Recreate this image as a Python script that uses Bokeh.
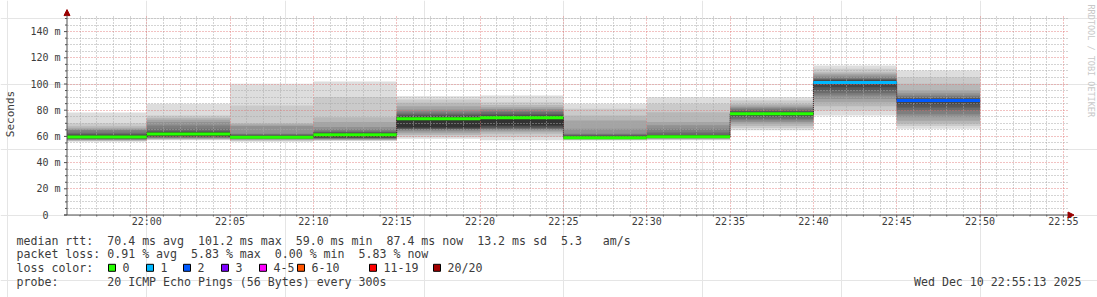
import math
from datetime import datetime
from bokeh.plotting import figure
from bokeh.models import Range1d, FixedTicker, Grid, Arrow, NormalHead
from bokeh.core.properties import value
from bokeh.embed import file_html
from bokeh.resources import INLINE

# ---------------- data ----------------
graph_start = "21:55:13"
graph_end = "22:55:13"
step_seconds = 300
step_end = ["22:00", "22:05", "22:10", "22:15", "22:20", "22:25",
            "22:30", "22:35", "22:40", "22:45", "22:50"]
median_ms = [59.5, 61.8, 59.4, 61.2, 73.5, 74.3, 59.0, 59.8, 77.2, 101.2, 87.4]
loss_count = [0, 0, 0, 0, 0, 0, 0, 0, 0, 1, 2]

# 20 sorted ping times (ms) per step
pings_2200 = [56.0, 56.4, 56.8, 57.1, 57.4, 57.7, 58.0, 58.3, 58.6, 58.9,
              60.2, 61.0, 61.8, 62.8, 64.6, 65.5, 66.3, 67.8, 70.1, 78.3]
pings_2205 = [57.0, 57.4, 57.8, 58.2, 58.6, 59.0, 59.4, 59.8, 60.2, 60.8,
              62.8, 63.4, 64.0, 65.9, 68.4, 70.9, 72.7, 74.3, 76.0, 84.9]
pings_2210 = [56.0, 56.5, 57.0, 57.4, 57.8, 58.1, 58.4, 58.7, 58.9, 59.1,
              59.8, 60.4, 61.0, 61.6, 62.1, 68.0, 69.1, 70.1, 83.6, 100.2]
pings_2215 = [56.4, 56.9, 57.3, 57.6, 57.9, 58.2, 58.5, 58.8, 59.2, 59.8,
              62.0, 62.6, 63.2, 63.8, 65.5, 67.1, 70.9, 74.7, 90.0, 101.9]
pings_2220 = [58.2, 59.5, 61.0, 62.5, 63.8, 64.6, 65.3, 65.8, 66.3, 67.0,
              74.5, 75.5, 76.5, 77.5, 79.0, 80.5, 83.1, 85.7, 88.2, 90.7]
pings_2225 = [57.0, 59.5, 62.0, 63.5, 64.5, 65.2, 65.8, 66.5, 67.5, 68.5,
              75.0, 76.0, 77.0, 78.5, 79.8, 81.0, 82.3, 84.0, 86.1, 91.2]
pings_2230 = [56.8, 57.2, 57.5, 57.8, 58.0, 58.2, 58.4, 58.6, 58.7, 58.8,
              59.6, 60.2, 60.8, 61.4, 62.0, 65.8, 72.2, 76.0, 81.1, 84.9]
pings_2235 = [57.0, 57.5, 57.9, 58.3, 58.6, 58.9, 59.1, 59.3, 59.5, 59.7,
              60.6, 61.0, 61.3, 63.0, 65.8, 68.5, 70.9, 78.5, 84.9, 89.9]
pings_2240 = [64.6, 66.5, 68.0, 69.7, 71.0, 72.3, 73.5, 74.8, 75.8, 76.6,
              77.8, 78.5, 79.3, 80.3, 81.3, 82.3, 83.5, 84.9, 87.4, 89.9]
pings_2245 = [76.0, 79.8, 83.0, 86.1, 88.5, 91.2, 93.0, 95.0, 97.5, 100.0,
              102.0, 102.8, 103.4, 104.0, 105.2, 106.5, 107.8, 109.0, 111.6, 114.1]
pings_2250 = [65.8, 68.0, 69.7, 72.0, 74.7, 77.0, 79.8, 82.0, 84.5, 86.5,
              88.0, 88.6, 89.4, 90.3, 91.2, 93.0, 95.0, 100.2, 105.2, 110.3]

y_ticks_ms = [0, 20, 40, 60, 80, 100, 120, 140]
y_tick_labels = ["0\u00a0\u00a0", "20 m", "40 m", "60 m", "80 m", "100 m", "120 m", "140 m"]
x_ticks_hm = ["22:00", "22:05", "22:10", "22:15", "22:20", "22:25",
              "22:30", "22:35", "22:40", "22:45", "22:50", "22:55"]
x_tick_labels = ["22:00", "22:05", "22:10", "22:15", "22:20", "22:25",
                 "22:30", "22:35", "22:40", "22:45", "22:50", "22:55"]
y_axis_title = "Seconds"

loss_labels = ["0", "1", "2", "3", "4-5", "6-10", "11-19", "20/20"]
loss_colors = ["#26ff00", "#00b8ff", "#0059ff", "#7e00ff", "#ff00ff", "#ff5500", "#ff0000", "#a10000"]
loss_upper = [0, 1, 2, 3, 5, 10, 19, 20]

rtt_avg, rtt_max, rtt_min, rtt_now, rtt_sd, rtt_ams = 70.4, 101.2, 59.0, 87.4, 13.2, 5.3
loss_avg, loss_max, loss_min, loss_now = 0.91, 5.83, 0.00, 5.83
probe_text = "20 ICMP Echo Pings (56 Bytes) every 300s"
stamp_text = "Wed Dec 10 22:55:13 2025"
watermark = "RRDTOOL / TOBI OETIKER"

pings_all = [pings_2200, pings_2205, pings_2210, pings_2215, pings_2220, pings_2225,
             pings_2230, pings_2235, pings_2240, pings_2245, pings_2250]

# ---------------- helpers ----------------
EPOCH = datetime(1970, 1, 1)


def ms(hms):
    parts = [int(v) for v in hms.split(":")]
    while len(parts) < 3:
        parts.append(0)
    d = datetime(2025, 12, 10, parts[0], parts[1], parts[2])
    return (d - EPOCH).total_seconds() * 1000.0


t0 = ms(graph_start)
t1 = ms(graph_end)
ends = [ms(s) for s in step_end]
starts = [max(e - step_seconds * 1000.0, t0) for e in ends]

MONO = "DejaVu Sans Mono"
TXT = "#3c3c3c"
AX = "#505050"
ARW = "#9a0000"

# page geometry (pixels)
W, H = 1097, 297
AX_X, AX_Y = 66.5, 214.5        # canvas position of the time / value axes
MS_PER_PX = 3600.0              # time per pixel (ms)
PX_PER_MS = 1.31                # pixels per millisecond of rtt
y_plot_top = 153.4              # top of the drawn grid (ms)
PXMS = PX_PER_MS

x_lo = t0 - AX_X * MS_PER_PX
x_hi = t0 + (W - AX_X) * MS_PER_PX
y_lo = -(H - AX_Y) / PXMS
y_hi = AX_Y / PXMS

p = figure(width=W, height=H, x_range=Range1d(x_lo, x_hi), y_range=Range1d(y_lo, y_hi),
           toolbar_location=None, output_backend="svg", min_border=0,
           x_axis_location=None, y_axis_location=None, title=None)
p.extra_x_ranges = {"px": Range1d(0, W)}
p.extra_y_ranges = {"py": Range1d(H, 0)}
p.outline_line_color = None
p.background_fill_color = "white"
p.border_fill_color = "white"

# ---------------- smoke ----------------
L, R, B, T, C = [], [], [], [], []
half = 10
for k in range(1, half + 1):
    g = int(190 / half * (half - k)) + 50
    col = "#%02x%02x%02x" % (g, g, g)
    for i, pl in enumerate(pings_all):
        L.append(starts[i]); R.append(ends[i])
        B.append(pl[k - 1]); T.append(pl[20 - k])
        C.append(col)
p.quad(left=L, right=R, bottom=B, top=T, fill_color=C, line_color=None)


def loss_color(n):
    for up, c in zip(loss_upper, loss_colors):
        if n <= up:
            return c
    return loss_colors[-1]


# ---------------- grid ----------------
maj_x = [ms(s) for s in x_ticks_hm]
min_x = []
m = ms("21:56")
while m <= t1:
    if m not in maj_x:
        min_x.append(m)
    m += 60000
xt = FixedTicker(ticks=maj_x, minor_ticks=min_x)
y_minor = [v for v in range(5, 155, 5) if v % 20 != 0]
yt = FixedTicker(ticks=y_ticks_ms[1:], minor_ticks=y_minor)

xg = Grid(dimension=0, ticker=xt, cross_bounds=(0, y_plot_top))
yg = Grid(dimension=1, ticker=yt, cross_bounds=(t0, t1))
for gr in (xg, yg):
    gr.grid_line_color = "#e07070"
    gr.grid_line_alpha = 0.85
    gr.grid_line_dash = "1 2"
    gr.minor_grid_line_color = "#a8a8a8"
    gr.minor_grid_line_dash = "1 2"
    gr.level = "guide"
    p.add_layout(gr)

# ---------------- median line ----------------
p.segment(x0=ends[:-1], x1=ends[:-1], y0=median_ms[:-1], y1=median_ms[1:],
          line_color="#202020", line_width=1, line_dash="1 1", level="annotation")
p.segment(x0=starts, x1=ends, y0=median_ms, y1=median_ms,
          line_color=[loss_color(n) for n in loss_count], line_width=3, level="annotation")

# ---------------- axes ----------------
p.add_layout(Arrow(x_start=t0, y_start=0, x_end=t0, y_end=y_plot_top + 3.4,
                   line_color=AX, line_width=1,
                   end=NormalHead(size=6, fill_color=ARW, line_color=ARW)))
p.add_layout(Arrow(x_start=t0 - 3 * MS_PER_PX, y_start=0, x_end=t1 + 7 * MS_PER_PX, y_end=0,
                   line_color=AX, line_width=1,
                   end=NormalHead(size=6, fill_color=ARW, line_color=ARW)))
# tick marks
p.segment(x0=[AX_X - 3] * len(y_ticks_ms), x1=[AX_X] * len(y_ticks_ms),
          y0=y_ticks_ms, y1=y_ticks_ms, x_range_name="px", line_color=AX, line_width=1)
p.segment(x0=[AX_X - 2] * len(y_minor), x1=[AX_X] * len(y_minor),
          y0=y_minor, y1=y_minor, x_range_name="px", line_color=AX, line_width=1)
p.segment(x0=maj_x, x1=maj_x, y0=[AX_Y] * len(maj_x), y1=[AX_Y + 2.5] * len(maj_x),
          y_range_name="py", line_color=AX, line_width=1)
p.segment(x0=min_x, x1=min_x, y0=[AX_Y] * len(min_x), y1=[AX_Y + 1.5] * len(min_x),
          y_range_name="py", line_color=AX, line_width=1)
# tick labels
p.text(x=maj_x, y=[221.0] * len(maj_x), y_range_name="py", text=x_tick_labels,
       text_font=value(MONO), text_font_size="10px", text_align="center",
       text_baseline="middle", text_color=TXT)
p.text(x=[AX_X - 6.5] * len(y_ticks_ms), y=y_ticks_ms, x_range_name="px", text=y_tick_labels,
       text_font=value(MONO), text_font_size="10px", text_align="right",
       text_baseline="middle", text_color=TXT)
p.text(x=[9.5], y=[113.5], x_range_name="px", y_range_name="py", text=[y_axis_title],
       angle=math.pi / 2, text_font=value(MONO), text_font_size="11px",
       text_align="center", text_baseline="middle", text_color=TXT)

# ---------------- text block ----------------
line1 = (f"median rtt:  {rtt_avg:.1f} ms avg  {rtt_max:.1f} ms max  {rtt_min:.1f} ms min  "
         f"{rtt_now:.1f} ms now  {rtt_sd:.1f} ms sd  {rtt_ams:.1f}   am/s")
line2 = (f"packet loss: {loss_avg:.2f} % avg  {loss_max:.2f} % max  "
         f"{loss_min:.2f} % min  {loss_now:.2f} % now")
line3 = "loss color:"
line4 = "probe:       " + probe_text
rows_y = [240.0, 253.7, 267.3, 281.0]
FS = "11.6px"
lines = [s.replace(" ", "\u00a0") for s in (line1, line2, line3, line4)]
p.text(x=[16] * 4, y=rows_y, text=lines, x_range_name="px", y_range_name="py",
       text_font=value(MONO), text_font_size=FS, text_baseline="middle",
       text_align="left", text_color=TXT)
p.text(x=[1081], y=[rows_y[3]], text=[stamp_text.replace(" ", "\u00a0")],
       x_range_name="px", y_range_name="py",
       text_font=value(MONO), text_font_size=FS, text_baseline="middle",
       text_align="right", text_color=TXT)

box_x = [108, 146, 183, 221, 259, 297, 369, 433]
p.quad(left=box_x, right=[b + 7 for b in box_x], top=[263.8] * 8, bottom=[270.8] * 8,
       x_range_name="px", y_range_name="py",
       fill_color=loss_colors, line_color="#000000", line_width=1)
p.text(x=[b + 14 for b in box_x], y=[rows_y[2]] * 8, text=loss_labels,
       x_range_name="px", y_range_name="py",
       text_font=value(MONO), text_font_size=FS, text_baseline="middle",
       text_align="left", text_color=TXT)

# ---------------- watermark ----------------
p.text(x=[1090], y=[4], text=[watermark.replace(" ", "\u00a0")], angle=-math.pi / 2,
       x_range_name="px", y_range_name="py",
       text_font=value(MONO), text_font_size="8.5px", text_baseline="middle",
       text_align="left", text_color="#c8c8c8")

open("out.html", "w").write(file_html(p, INLINE))
